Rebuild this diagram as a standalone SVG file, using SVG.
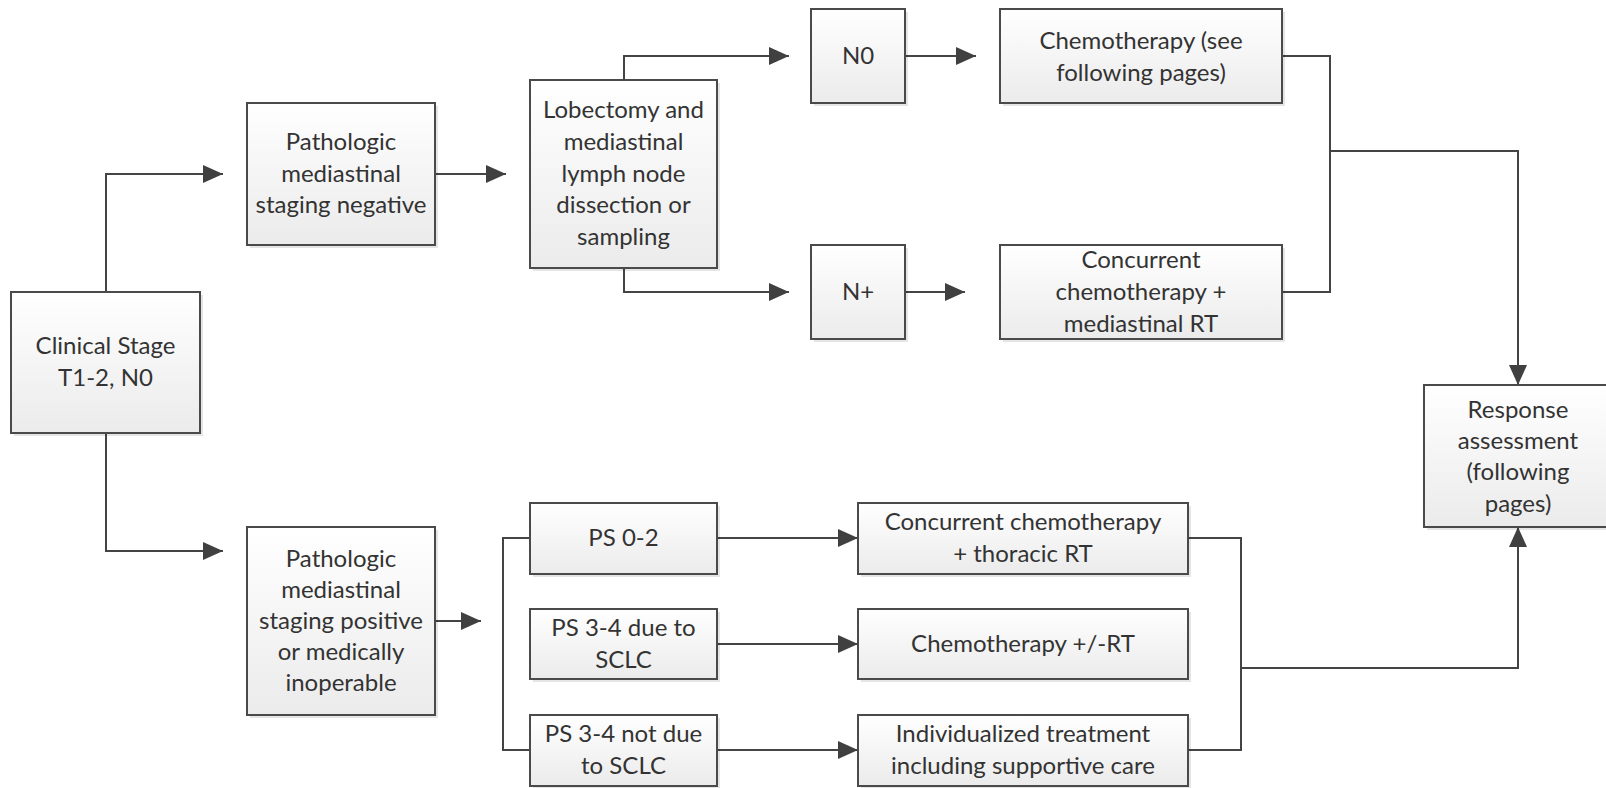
<svg xmlns="http://www.w3.org/2000/svg" width="1606" height="788" viewBox="0 0 1606 788">
<defs>
<linearGradient id="g" x1="0" y1="0" x2="0" y2="1">
<stop offset="0" stop-color="#ffffff"/>
<stop offset="1" stop-color="#ebebeb"/>
</linearGradient>
<marker id="ah" markerUnits="userSpaceOnUse" markerWidth="22" markerHeight="20" refX="20" refY="9" orient="auto">
<path d="M0,0 L20,9 L0,18 z" fill="#404040"/>
</marker>
<style>
.box{fill:url(#g);stroke:#4a4a4a;stroke-width:2}
.sh{fill:#000;opacity:0.10}
.t{font-family:Lato,"Liberation Sans",Arial,sans-serif;font-size:24px;fill:#333;text-anchor:middle}
.c{fill:none;stroke:#444;stroke-width:2}
.a{marker-end:url(#ah)}
</style>
</defs>
<rect width="1606" height="788" fill="#fff"/>
<g id="connectors">
<path class="c a" d="M106,292 V174 H223"/>
<path class="c a" d="M435,174 H506"/>
<path class="c a" d="M624,80 V56 H789"/>
<path class="c a" d="M624,268 V292 H789"/>
<path class="c a" d="M905,56 H976"/>
<path class="c a" d="M905,292 H965"/>
<path class="c" d="M1282,56 H1330 V292 H1282"/>
<path class="c a" d="M1330,151 H1518 V385"/>
<path class="c a" d="M106,433 V551 H223"/>
<path class="c a" d="M435,621 H481"/>
<path class="c" d="M530,538 H503 V750 H530"/>
<path class="c a" d="M717,538 H858"/>
<path class="c a" d="M717,644 H858"/>
<path class="c a" d="M717,750 H858"/>
<path class="c" d="M1188,538 H1241 V750 H1188"/>
<path class="c a" d="M1241,668 H1518 V527"/>
</g>
<g id="clinical">
<rect class="sh" x="14" y="295" width="189" height="141"/>
<rect class="box" x="11" y="292" width="189" height="141"/>
<text class="t" x="105.5" y="354">Clinical Stage</text>
<text class="t" x="105.5" y="386">T1-2, N0</text>
</g>
<g id="path-neg">
<rect class="sh" x="250" y="106" width="188" height="142"/>
<rect class="box" x="247" y="103" width="188" height="142"/>
<text class="t" x="341" y="150">Pathologic</text>
<text class="t" x="341" y="182">mediastinal</text>
<text class="t" x="341" y="213">staging negative</text>
</g>
<g id="lobectomy">
<rect class="sh" x="533" y="83" width="187" height="188"/>
<rect class="box" x="530" y="80" width="187" height="188"/>
<text class="t" x="623.5" y="118">Lobectomy and</text>
<text class="t" x="623.5" y="150">mediastinal</text>
<text class="t" x="623.5" y="182">lymph node</text>
<text class="t" x="623.5" y="213">dissection or</text>
<text class="t" x="623.5" y="245">sampling</text>
</g>
<g id="n0">
<rect class="sh" x="814" y="12" width="94" height="94"/>
<rect class="box" x="811" y="9" width="94" height="94"/>
<text class="t" x="858" y="64">N0</text>
</g>
<g id="nplus">
<rect class="sh" x="814" y="248" width="94" height="94"/>
<rect class="box" x="811" y="245" width="94" height="94"/>
<text class="t" x="858" y="300">N+</text>
</g>
<g id="chemo-see">
<rect class="sh" x="1003" y="12" width="282" height="94"/>
<rect class="box" x="1000" y="9" width="282" height="94"/>
<text class="t" x="1141" y="49">Chemotherapy (see</text>
<text class="t" x="1141" y="81">following pages)</text>
</g>
<g id="concurrent-med">
<rect class="sh" x="1003" y="248" width="282" height="94"/>
<rect class="box" x="1000" y="245" width="282" height="94"/>
<text class="t" x="1141" y="268">Concurrent</text>
<text class="t" x="1141" y="300">chemotherapy +</text>
<text class="t" x="1141" y="332">mediastinal RT</text>
</g>
<g id="response">
<rect class="sh" x="1427" y="388" width="188" height="142"/>
<rect class="box" x="1424" y="385" width="188" height="142"/>
<text class="t" x="1518" y="418">Response</text>
<text class="t" x="1518" y="449">assessment</text>
<text class="t" x="1518" y="480">(following</text>
<text class="t" x="1518" y="512">pages)</text>
</g>
<g id="path-pos">
<rect class="sh" x="250" y="530" width="188" height="188"/>
<rect class="box" x="247" y="527" width="188" height="188"/>
<text class="t" x="341" y="567">Pathologic</text>
<text class="t" x="341" y="598">mediastinal</text>
<text class="t" x="341" y="629">staging positive</text>
<text class="t" x="341" y="660">or medically</text>
<text class="t" x="341" y="691">inoperable</text>
</g>
<g id="ps02">
<rect class="sh" x="533" y="506" width="187" height="71"/>
<rect class="box" x="530" y="503" width="187" height="71"/>
<text class="t" x="623.5" y="546">PS 0-2</text>
</g>
<g id="ps34due">
<rect class="sh" x="533" y="612" width="187" height="70"/>
<rect class="box" x="530" y="609" width="187" height="70"/>
<text class="t" x="623.5" y="636">PS 3-4 due to</text>
<text class="t" x="623.5" y="668">SCLC</text>
</g>
<g id="ps34notdue">
<rect class="sh" x="533" y="718" width="187" height="71"/>
<rect class="box" x="530" y="715" width="187" height="71"/>
<text class="t" x="623.5" y="742">PS 3-4 not due</text>
<text class="t" x="623.5" y="774">to SCLC</text>
</g>
<g id="concurrent-thor">
<rect class="sh" x="861" y="506" width="330" height="71"/>
<rect class="box" x="858" y="503" width="330" height="71"/>
<text class="t" x="1023" y="530">Concurrent chemotherapy</text>
<text class="t" x="1023" y="562">+ thoracic RT</text>
</g>
<g id="chemo-rt">
<rect class="sh" x="861" y="612" width="330" height="70"/>
<rect class="box" x="858" y="609" width="330" height="70"/>
<text class="t" x="1023" y="652">Chemotherapy +/-RT</text>
</g>
<g id="individualized">
<rect class="sh" x="861" y="718" width="330" height="71"/>
<rect class="box" x="858" y="715" width="330" height="71"/>
<text class="t" x="1023" y="742">Individualized treatment</text>
<text class="t" x="1023" y="774">including supportive care</text>
</g>
</svg>
